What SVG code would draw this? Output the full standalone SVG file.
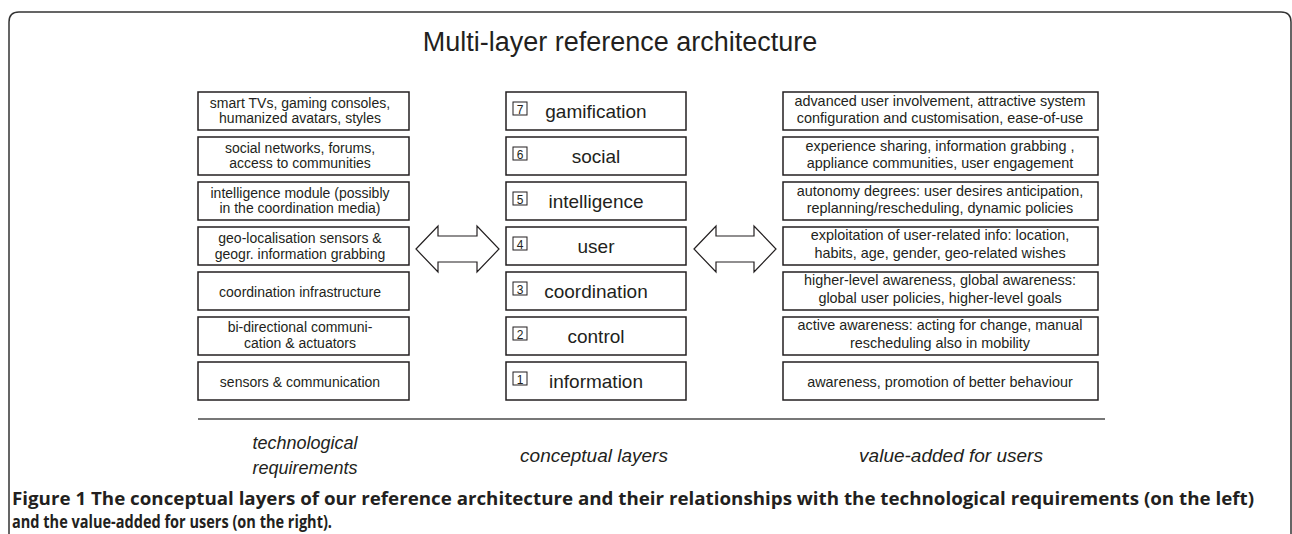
<svg xmlns="http://www.w3.org/2000/svg" width="1292" height="534" viewBox="0 0 1292 534">
<style>
text{font-family:"Liberation Sans",Arial,sans-serif;fill:#231f20}
.box{fill:#fff;stroke:#231f20;stroke-width:1.5}
.num{fill:#fff;stroke:#231f20;stroke-width:1}
.lt{font-size:14px;text-anchor:middle}
.rt{font-size:14.4px;text-anchor:middle}
.mt{font-size:19px;text-anchor:middle}
.nt{font-size:12px;text-anchor:middle}
.lab{font-size:18px;font-style:italic;text-anchor:middle}
.cap{font-size:17px;font-weight:bold;font-family:"Open Sans","Liberation Sans",sans-serif}
.arrow{fill:#fff;stroke:#231f20;stroke-width:1.2;stroke-linejoin:miter}
</style>
<rect width="1292" height="534" fill="#fff"/>
<path d="M9,534 V22 Q9,12 19,12 H1281 Q1291,12 1291,22 V534" fill="none" stroke="#333" stroke-width="1.5"/>
<text x="620" y="51" style="font-size:27px;text-anchor:middle">Multi-layer reference architecture</text>

<g id="left-column">
<g id="tech7"><rect class="box" x="198" y="92" width="211" height="38"/><text class="lt" x="300" y="108">smart TVs, gaming consoles,</text><text class="lt" x="300" y="123">humanized avatars, styles</text></g>
<g id="tech6"><rect class="box" x="198" y="137" width="211" height="38"/><text class="lt" x="300" y="152.5">social networks, forums,</text><text class="lt" x="300" y="168">access to communities</text></g>
<g id="tech5"><rect class="box" x="198" y="182" width="211" height="38"/><text class="lt" x="300" y="197.5">intelligence module (possibly</text><text class="lt" x="300" y="213">in the coordination media)</text></g>
<g id="tech4"><rect class="box" x="198" y="227" width="211" height="38"/><text class="lt" x="300" y="243">geo-localisation sensors &amp;</text><text class="lt" x="300" y="258.5">geogr. information grabbing</text></g>
<g id="tech3"><rect class="box" x="198" y="272" width="211" height="38"/><text class="lt" x="300" y="296.5">coordination infrastructure</text></g>
<g id="tech2"><rect class="box" x="198" y="317" width="211" height="38"/><text class="lt" x="300" y="332">bi-directional communi-</text><text class="lt" x="300" y="347.5">cation &amp; actuators</text></g>
<g id="tech1"><rect class="box" x="198" y="362" width="211" height="38"/><text class="lt" x="300" y="386.5">sensors &amp; communication</text></g>
</g>

<g id="middle-column">
<g id="layer7"><rect class="box" x="506" y="92" width="180" height="38"/><rect class="num" x="513" y="102" width="14" height="13"/><text class="nt" x="520" y="113.5">7</text><text class="mt" x="596" y="118">gamification</text></g>
<g id="layer6"><rect class="box" x="506" y="137" width="180" height="38"/><rect class="num" x="513" y="147" width="14" height="13"/><text class="nt" x="520" y="158.5">6</text><text class="mt" x="596" y="163">social</text></g>
<g id="layer5"><rect class="box" x="506" y="182" width="180" height="38"/><rect class="num" x="513" y="192" width="14" height="13"/><text class="nt" x="520" y="203.5">5</text><text class="mt" x="596" y="208">intelligence</text></g>
<g id="layer4"><rect class="box" x="506" y="227" width="180" height="38"/><rect class="num" x="513" y="237" width="14" height="13"/><text class="nt" x="520" y="248.5">4</text><text class="mt" x="596" y="253">user</text></g>
<g id="layer3"><rect class="box" x="506" y="272" width="180" height="38"/><rect class="num" x="513" y="282" width="14" height="13"/><text class="nt" x="520" y="293.5">3</text><text class="mt" x="596" y="298">coordination</text></g>
<g id="layer2"><rect class="box" x="506" y="317" width="180" height="38"/><rect class="num" x="513" y="327" width="14" height="13"/><text class="nt" x="520" y="338.5">2</text><text class="mt" x="596" y="343">control</text></g>
<g id="layer1"><rect class="box" x="506" y="362" width="180" height="38"/><rect class="num" x="513" y="372" width="14" height="13"/><text class="nt" x="520" y="383.5">1</text><text class="mt" x="596" y="388">information</text></g>
</g>

<g id="right-column">
<g id="value7"><rect class="box" x="783" y="92" width="315" height="38"/><text class="rt" x="940" y="105.5">advanced user involvement, attractive system</text><text class="rt" x="940" y="123">configuration and customisation, ease-of-use</text></g>
<g id="value6"><rect class="box" x="783" y="137" width="315" height="38"/><text class="rt" x="940" y="150.5">experience sharing, information grabbing ,</text><text class="rt" x="940" y="168">appliance communities, user engagement</text></g>
<g id="value5"><rect class="box" x="783" y="182" width="315" height="38"/><text class="rt" x="940" y="195.5">autonomy degrees: user desires anticipation,</text><text class="rt" x="940" y="213">replanning/rescheduling, dynamic policies</text></g>
<g id="value4"><rect class="box" x="783" y="227" width="315" height="38"/><text class="rt" x="940" y="240">exploitation of user-related info: location,</text><text class="rt" x="940" y="258">habits, age, gender, geo-related wishes</text></g>
<g id="value3"><rect class="box" x="783" y="272" width="315" height="38"/><text class="rt" x="940" y="285">higher-level awareness, global awareness:</text><text class="rt" x="940" y="303">global user policies, higher-level goals</text></g>
<g id="value2"><rect class="box" x="783" y="317" width="315" height="38"/><text class="rt" x="940" y="329.5">active awareness: acting for change, manual</text><text class="rt" x="940" y="347.5">rescheduling also in mobility</text></g>
<g id="value1"><rect class="box" x="783" y="362" width="315" height="38"/><text class="rt" x="940" y="386.5">awareness, promotion of better behaviour</text></g>
</g>

<g id="connectors">
<path class="arrow" d="M416,249 L438,226 L438,236 L477,236 L477,226 L499,249 L477,272 L477,262 L438,262 L438,272 Z"/>
<path class="arrow" d="M694,249 L716,226 L716,236 L754,236 L754,226 L776,249 L754,272 L754,262 L716,262 L716,272 Z"/>
</g>

<line x1="198" y1="419" x2="1105" y2="419" stroke="#777" stroke-width="2"/>
<text class="lab" x="305" y="449">technological</text>
<text class="lab" x="305" y="474">requirements</text>
<text class="lab" x="594" y="462" style="font-size:19px">conceptual layers</text>
<text class="lab" x="951" y="462" style="font-size:19px">value-added for users</text>

<text class="cap" x="12" y="505" textLength="1242" lengthAdjust="spacingAndGlyphs">Figure 1 The conceptual layers of our reference architecture and their relationships with the technological requirements (on the left)</text>
<text class="cap" x="12" y="528" textLength="320" lengthAdjust="spacingAndGlyphs">and the value-added for users (on the right).</text>
</svg>
